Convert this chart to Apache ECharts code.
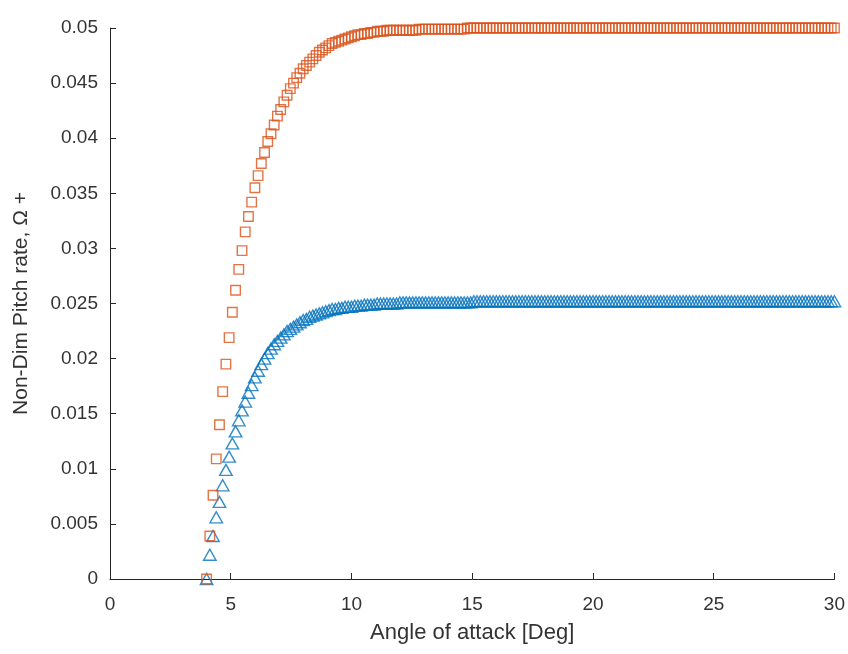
<!DOCTYPE html>
<html>
<head>
<meta charset="utf-8">
<script src="https://cdn.jsdelivr.net/npm/echarts@6/dist/echarts.min.js"></script>
<style>
html,body{margin:0;padding:0;background:#fff;}
#chart{width:848px;height:654px;}
</style>
</head>
<body>
<div id="chart"></div>
<script>
var xStart = 4;
var xStep = 2 / 15;

// Non-dimensional pitch rate (orange squares)
var seriesSquare = [
  0, 0.0039, 0.0076, 0.0109, 0.0140, 0.0170, 0.0195, 0.0219, 0.0242, 0.0262,
  0.0281, 0.0298, 0.0315, 0.0329, 0.0342, 0.0355, 0.0366, 0.0377, 0.0387, 0.0397,
  0.0404, 0.0412, 0.0420, 0.0426, 0.0433, 0.0439, 0.0445, 0.0450, 0.0455, 0.0459,
  0.0463, 0.0466, 0.0469, 0.0472, 0.0475, 0.0478, 0.0480, 0.0482, 0.0484, 0.0486,
  0.0487, 0.0488, 0.0489, 0.0490, 0.0491, 0.0492, 0.0493, 0.0494, 0.0494, 0.0495,
  0.0495, 0.0496, 0.0496, 0.0497, 0.0497, 0.0497, 0.0498, 0.0498, 0.0498, 0.0498,
  0.0498, 0.0498, 0.0498, 0.0498, 0.0498, 0.0498, 0.0499, 0.0499, 0.0499, 0.0499,
  0.0499, 0.0499, 0.0499, 0.0499, 0.0499, 0.0499, 0.0499, 0.0499, 0.0499, 0.0499,
  0.0499, 0.0500, 0.0500, 0.0500, 0.0500, 0.0500, 0.0500, 0.0500, 0.0500, 0.0500,
  0.0500, 0.0500, 0.0500, 0.0500, 0.0500, 0.0500, 0.0500, 0.0500, 0.0500, 0.0500,
  0.0500, 0.0500, 0.0500, 0.0500, 0.0500, 0.0500, 0.0500, 0.0500, 0.0500, 0.0500,
  0.0500, 0.0500, 0.0500, 0.0500, 0.0500, 0.0500, 0.0500, 0.0500, 0.0500, 0.0500,
  0.0500, 0.0500, 0.0500, 0.0500, 0.0500, 0.0500, 0.0500, 0.0500, 0.0500, 0.0500,
  0.0500, 0.0500, 0.0500, 0.0500, 0.0500, 0.0500, 0.0500, 0.0500, 0.0500, 0.0500,
  0.0500, 0.0500, 0.0500, 0.0500, 0.0500, 0.0500, 0.0500, 0.0500, 0.0500, 0.0500,
  0.0500, 0.0500, 0.0500, 0.0500, 0.0500, 0.0500, 0.0500, 0.0500, 0.0500, 0.0500,
  0.0500, 0.0500, 0.0500, 0.0500, 0.0500, 0.0500, 0.0500, 0.0500, 0.0500, 0.0500,
  0.0500, 0.0500, 0.0500, 0.0500, 0.0500, 0.0500, 0.0500, 0.0500, 0.0500, 0.0500,
  0.0500, 0.0500, 0.0500, 0.0500, 0.0500, 0.0500, 0.0500, 0.0500, 0.0500, 0.0500,
  0.0500, 0.0500, 0.0500, 0.0500, 0.0500, 0.0500
];

// Non-dimensional pitch rate (blue triangles)
var seriesTriangle = [
  0, 0.0022, 0.0039, 0.0056, 0.0070, 0.0085, 0.0099, 0.0111, 0.0123, 0.0134,
  0.0144, 0.0153, 0.0161, 0.0169, 0.0176, 0.0183, 0.0189, 0.0195, 0.0200, 0.0205,
  0.0209, 0.0213, 0.0216, 0.0219, 0.0222, 0.0225, 0.0227, 0.0229, 0.0231, 0.0233,
  0.0235, 0.0236, 0.0238, 0.0239, 0.0240, 0.0241, 0.0242, 0.0243, 0.0244, 0.0245,
  0.0245, 0.0246, 0.0246, 0.0247, 0.0247, 0.0247, 0.0248, 0.0248, 0.0248, 0.0249,
  0.0249, 0.0249, 0.0249, 0.0250, 0.0250, 0.0250, 0.0250, 0.0250, 0.0250, 0.0250,
  0.0251, 0.0251, 0.0251, 0.0251, 0.0251, 0.0251, 0.0251, 0.0251, 0.0251, 0.0251,
  0.0251, 0.0251, 0.0251, 0.0251, 0.0251, 0.0251, 0.0251, 0.0251, 0.0251, 0.0251,
  0.0251, 0.0251, 0.0251, 0.0252, 0.0252, 0.0252, 0.0252, 0.0252, 0.0252, 0.0252,
  0.0252, 0.0252, 0.0252, 0.0252, 0.0252, 0.0252, 0.0252, 0.0252, 0.0252, 0.0252,
  0.0252, 0.0252, 0.0252, 0.0252, 0.0252, 0.0252, 0.0252, 0.0252, 0.0252, 0.0252,
  0.0252, 0.0252, 0.0252, 0.0252, 0.0252, 0.0252, 0.0252, 0.0252, 0.0252, 0.0252,
  0.0252, 0.0252, 0.0252, 0.0252, 0.0252, 0.0252, 0.0252, 0.0252, 0.0252, 0.0252,
  0.0252, 0.0252, 0.0252, 0.0252, 0.0252, 0.0252, 0.0252, 0.0252, 0.0252, 0.0252,
  0.0252, 0.0252, 0.0252, 0.0252, 0.0252, 0.0252, 0.0252, 0.0252, 0.0252, 0.0252,
  0.0252, 0.0252, 0.0252, 0.0252, 0.0252, 0.0252, 0.0252, 0.0252, 0.0252, 0.0252,
  0.0252, 0.0252, 0.0252, 0.0252, 0.0252, 0.0252, 0.0252, 0.0252, 0.0252, 0.0252,
  0.0252, 0.0252, 0.0252, 0.0252, 0.0252, 0.0252, 0.0252, 0.0252, 0.0252, 0.0252,
  0.0252, 0.0252, 0.0252, 0.0252, 0.0252, 0.0252, 0.0252, 0.0252, 0.0252, 0.0252,
  0.0252, 0.0252, 0.0252, 0.0252, 0.0252, 0.0252
];

var xTickLabels = ['0', '5', '10', '15', '20', '25', '30'];
var yTickLabels = ['0', '0.005', '0.01', '0.015', '0.02', '0.025', '0.03', '0.035', '0.04', '0.045', '0.05'];

function pairs(vals) {
  var out = [];
  for (var i = 0; i < vals.length; i++) {
    out.push([xStart + i * xStep, vals[i]]);
  }
  return out;
}

var axisColor = '#262626';
var textColor = '#333333';
var font = 'Arial, "Liberation Sans", Helvetica, sans-serif';

var chart = echarts.init(document.getElementById('chart'), null, {renderer: 'canvas'});
chart.setOption({
  backgroundColor: '#ffffff',
  animation: false,
  grid: {left: 110, right: 12, top: 28, bottom: 75, containLabel: false},
  xAxis: {
    type: 'value', min: 0, max: 30, interval: 5,
    name: 'Angle of attack [Deg]', nameLocation: 'middle', nameGap: 43,
    nameTextStyle: {color: textColor, fontSize: 22, fontFamily: font},
    axisLine: {show: true, onZero: false, lineStyle: {color: axisColor, width: 1}},
    axisTick: {show: true, inside: true, length: 6, lineStyle: {color: axisColor}},
    axisLabel: {color: textColor, fontSize: 19, fontFamily: font, margin: 16,
      formatter: function (v) { return xTickLabels[Math.round(v / 5)]; }},
    splitLine: {show: false}
  },
  yAxis: {
    type: 'value', min: 0, max: 0.05, interval: 0.005,
    name: 'Non-Dim Pitch rate, \u03A9 +', nameLocation: 'middle', nameGap: 78,
    nameTextStyle: {color: textColor, fontSize: 21, fontFamily: font},
    axisLine: {show: true, lineStyle: {color: axisColor, width: 1}},
    axisTick: {show: true, inside: true, length: 6, lineStyle: {color: axisColor}},
    axisLabel: {color: textColor, fontSize: 19, fontFamily: font, margin: 12,
      formatter: function (v) { return yTickLabels[Math.round(v / 0.005)]; }},
    splitLine: {show: false}
  },
  series: [
    {
      type: 'scatter', name: 'triangle', data: pairs(seriesTriangle),
      symbol: 'triangle', symbolSize: [12.5, 11],
      itemStyle: {color: 'rgba(0,0,0,0)', borderColor: '#0072BD', borderWidth: 1.4},
      emphasis: {disabled: true}
    },
    {
      type: 'scatter', name: 'square', data: pairs(seriesSquare),
      symbol: 'rect', symbolSize: 9.5,
      itemStyle: {color: 'rgba(0,0,0,0)', borderColor: '#D95319', borderWidth: 1.4},
      emphasis: {disabled: true}
    }
  ]
});
</script>
</body>
</html>
